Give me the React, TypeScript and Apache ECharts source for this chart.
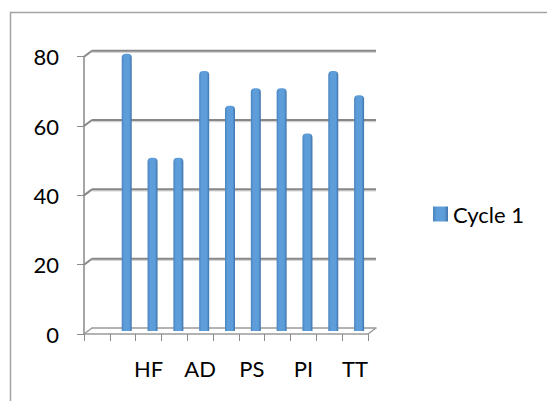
import React, { useEffect, useRef } from "react";
import * as echarts from "echarts";

const categories = ["", "", "HF", "", "AD", "", "PS", "", "PI", "", "TT"];
const cycle1 = [null, 80, 50, 50, 75, 65, 70, 70, 57, 75, 68];
const yTicks = [0, 20, 40, 60, 80];
const seriesName = "Cycle 1";

const DX = 8;
const DY = 6;
const FONT = "Lato, 'Open Sans', sans-serif";
const FS = 22;

export default function App() {
  const ref = useRef<HTMLDivElement>(null);
  useEffect(() => {
    if (!ref.current) return;
    const chart = echarts.init(ref.current, undefined, { renderer: "svg" });
    const front = { left: 84, top: 56.7, width: 284, height: 277.3 };
    const grids = [
      front,
      { left: front.left + DX, top: front.top - DY, width: front.width, height: front.height },
      { left: front.left + DX / 2, top: front.top - DY / 2, width: front.width, height: front.height },
    ];
    const yBase = { type: "value", min: 0, max: 80, interval: 20 };
    const gridColor = "#878787";
    chart.setOption({
      animation: false,
      grid: grids,
      legend: {
        orient: "vertical",
        left: 428,
        top: 198,
        itemWidth: 15,
        itemHeight: 15,
        itemGap: 8,
        icon: "rect",
        data: [seriesName],
        textStyle: { fontFamily: FONT, fontSize: FS, color: "#000" },
      },
      graphic: [
        {
          type: "rect",
          shape: { x: 10.5, y: 12.5, width: 700, height: 600 },
          style: { fill: "none", stroke: "#a3a3a3", lineWidth: 1.5 },
          silent: true,
        },
      ],
      xAxis: [
        {
          type: "category",
          gridIndex: 0,
          data: categories,
          axisLine: { show: true, lineStyle: { color: "#9a9a9a", width: 1.5 } },
          axisTick: { show: true, length: 7, interval: 0, lineStyle: { color: "#8a8a8a", width: 1 } },
          axisLabel: { interval: 0, margin: 23, fontFamily: FONT, fontSize: FS, color: "#000" },
          splitLine: { show: false },
        },
        {
          type: "category",
          gridIndex: 1,
          data: categories,
          axisLine: { show: true, lineStyle: { color: "#9a9a9a", width: 1.5 } },
          axisTick: { show: false },
          axisLabel: { show: false },
          splitLine: { show: false },
        },
        {
          type: "category",
          gridIndex: 2,
          data: categories,
          show: false,
        },
      ],
      yAxis: [
        {
          ...yBase,
          gridIndex: 0,
          axisLine: { show: true, lineStyle: { color: "#a6a6a6", width: 2 } },
          axisTick: { show: true, length: 7, lineStyle: { color: "#8a8a8a", width: 1 } },
          axisLabel: { margin: 25, fontFamily: FONT, fontSize: FS, color: "#000" },
          splitLine: { show: false },
        },
        {
          ...yBase,
          gridIndex: 1,
          axisLine: { show: false },
          axisTick: { show: false },
          axisLabel: { show: false },
          splitLine: { show: false },
        },
        { ...yBase, gridIndex: 2, show: false },
      ],
      series: [
        {
          type: "custom",
          xAxisIndex: 0,
          yAxisIndex: 0,
          silent: true,
          z: 1,
          data: yTicks.map((v) => [0, v]),
          renderItem: (params: any, api: any) => {
            const cs = params.coordSys;
            const v = api.value(1);
            const y = api.coord([0, v])[1];
            const children: any[] = [
              {
                type: "line",
                shape: { x1: cs.x, y1: y, x2: cs.x + DX, y2: y - DY },
                style: { stroke: v === 0 ? "#9a9a9a" : gridColor, lineWidth: v === 0 ? 1.5 : 2 },
              },
            ];
            if (v === 0) {
              children.push({
                type: "line",
                shape: { x1: cs.x + cs.width, y1: y, x2: cs.x + cs.width + DX, y2: y - DY },
                style: { stroke: "#9a9a9a", lineWidth: 1.5 },
              });
            }
            return { type: "group", children };
          },
        },
        {
          type: "custom",
          xAxisIndex: 1,
          yAxisIndex: 1,
          silent: true,
          z: 1,
          data: yTicks.filter((v) => v > 0).map((v) => [0, v]),
          renderItem: (params: any, api: any) => {
            const cs = params.coordSys;
            const y = api.coord([0, api.value(1)])[1];
            return {
              type: "group",
              children: [
                {
                  type: "line",
                  shape: { x1: cs.x, y1: y + 1.5, x2: cs.x + cs.width, y2: y + 1.5 },
                  style: { stroke: "#d4d4d4", lineWidth: 1.5 },
                },
                {
                  type: "line",
                  shape: { x1: cs.x, y1: y, x2: cs.x + cs.width, y2: y },
                  style: { stroke: gridColor, lineWidth: 2 },
                },
              ],
            };
          },
        },
        {
          name: seriesName,
          type: "bar",
          xAxisIndex: 2,
          yAxisIndex: 2,
          z: 5,
          barWidth: 10,
          data: cycle1.map((v) => (v === null ? "-" : v)),
          itemStyle: {
            color: new echarts.graphic.LinearGradient(0, 0, 1, 0, [
              { offset: 0, color: "#4a84bf" },
              { offset: 0.25, color: "#5d9dd9" },
              { offset: 0.75, color: "#5d9dd9" },
              { offset: 1, color: "#3f73aa" },
            ]),
            borderRadius: [4, 4, 0, 0],
          },
        },
      ],
    });
    return () => chart.dispose();
  }, []);
  return (
    <div
      ref={ref}
      style={{ position: "absolute", left: 0, top: 0, width: 547, height: 401, background: "#fff" }}
    />
  );
}
